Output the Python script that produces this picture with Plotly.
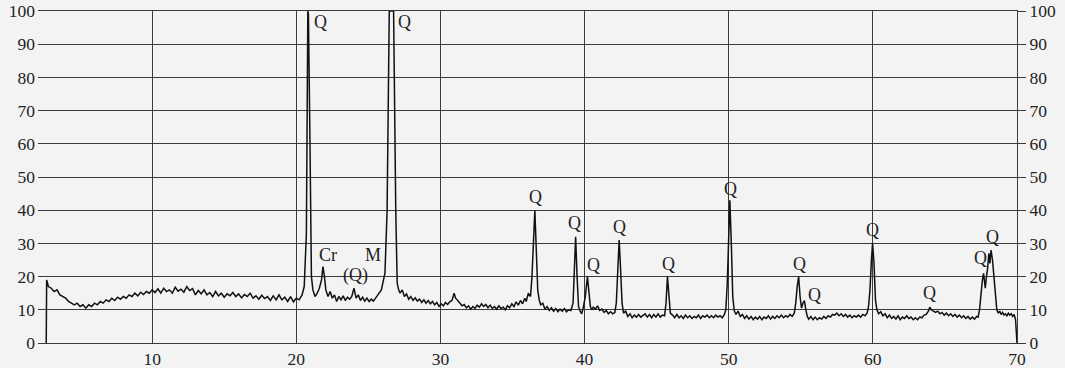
import plotly.graph_objects as go

# ---- data (2θ in degrees, intensity) ----
two_theta = [
    2.65, 2.68, 2.8, 3.0, 3.2, 3.4, 3.6, 3.8, 4.0, 4.2, 4.4, 4.6, 4.8, 5.0, 5.2, 5.4, 5.6, 5.8,
    6.0, 6.2, 6.4, 6.6, 6.8, 7.0, 7.2, 7.4, 7.6, 7.8, 8.0, 8.2, 8.4, 8.6, 8.8, 9.0, 9.2, 9.4,
    9.6, 9.8, 10.0, 10.2, 10.4, 10.6, 10.8, 11.0, 11.2, 11.4, 11.6, 11.8, 12.0, 12.2, 12.4,
    12.6, 12.8, 13.0, 13.2, 13.4, 13.6, 13.8, 14.0, 14.2, 14.4, 14.6, 14.8, 15.0, 15.2, 15.4,
    15.6, 15.8, 16.0, 16.2, 16.4, 16.6, 16.8, 17.0, 17.2, 17.4, 17.6, 17.8, 18.0, 18.2, 18.4,
    18.6, 18.8, 19.0, 19.2, 19.4, 19.6, 19.8, 20.0, 20.2, 20.4, 20.55, 20.7, 20.8, 20.84,
    20.95, 21.05, 21.15, 21.3, 21.45, 21.6, 21.75, 21.85, 21.95, 22.05, 22.2, 22.35, 22.5,
    22.65, 22.8, 22.95, 23.1, 23.25, 23.4, 23.55, 23.7, 23.85, 24.0, 24.15, 24.3, 24.45,
    24.6, 24.75, 24.9, 25.05, 25.2, 25.35, 25.5, 25.65, 25.8, 25.9, 26.0, 26.15, 26.3,
    26.45, 26.6, 26.75, 26.9, 27.0, 27.1, 27.2, 27.35, 27.5, 27.65, 27.8, 27.95, 28.1,
    28.25, 28.4, 28.55, 28.7, 28.85, 29.0, 29.15, 29.3, 29.45, 29.6, 29.75, 29.9, 30.05,
    30.2, 30.35, 30.5, 30.65, 30.8, 30.95, 31.05, 31.2, 31.35, 31.5, 31.65, 31.8, 31.95,
    32.1, 32.25, 32.4, 32.55, 32.7, 32.85, 33.0, 33.15, 33.3, 33.45, 33.6, 33.75, 33.9,
    34.05, 34.2, 34.35, 34.5, 34.65, 34.8, 34.95, 35.1, 35.25, 35.4, 35.55, 35.7, 35.85,
    35.95, 36.1, 36.25, 36.35, 36.45, 36.55, 36.65, 36.75, 36.85, 36.95, 37.1, 37.25, 37.4,
    37.55, 37.7, 37.85, 38.0, 38.15, 38.3, 38.45, 38.6, 38.75, 38.9, 39.05, 39.2, 39.3,
    39.38, 39.48, 39.58, 39.7, 39.8, 39.9, 40.05, 40.2, 40.3, 40.4, 40.5, 40.6, 40.75,
    40.9, 41.05, 41.2, 41.35, 41.5, 41.65, 41.8, 41.95, 42.1, 42.2, 42.3, 42.4, 42.5, 42.6,
    42.7, 42.85, 43.0, 43.15, 43.3, 43.45, 43.6, 43.75, 43.9, 44.05, 44.2, 44.35, 44.5,
    44.65, 44.8, 44.95, 45.1, 45.25, 45.4, 45.55, 45.65, 45.75, 45.85, 45.95, 46.1, 46.25,
    46.4, 46.55, 46.7, 46.85, 47.0, 47.15, 47.3, 47.45, 47.6, 47.75, 47.9, 48.05, 48.2,
    48.35, 48.5, 48.65, 48.8, 48.95, 49.1, 49.25, 49.4, 49.55, 49.7, 49.8, 49.9, 50.0,
    50.08, 50.18, 50.28, 50.38, 50.5, 50.65, 50.8, 50.95, 51.1, 51.25, 51.4, 51.55, 51.7,
    51.85, 52.0, 52.15, 52.3, 52.45, 52.6, 52.75, 52.9, 53.05, 53.2, 53.35, 53.5, 53.65,
    53.8, 53.95, 54.1, 54.25, 54.4, 54.55, 54.65, 54.75, 54.85, 54.95, 55.05, 55.15, 55.25,
    55.35, 55.45, 55.55, 55.7, 55.85, 56.0, 56.15, 56.3, 56.45, 56.6, 56.75, 56.9, 57.05,
    57.2, 57.35, 57.5, 57.65, 57.8, 57.95, 58.1, 58.25, 58.4, 58.55, 58.7, 58.85, 59.0,
    59.15, 59.3, 59.45, 59.6, 59.7, 59.8, 59.9, 59.98, 60.08, 60.18, 60.28, 60.4, 60.55,
    60.7, 60.85, 61.0, 61.15, 61.3, 61.45, 61.6, 61.75, 61.9, 62.05, 62.2, 62.35, 62.5,
    62.65, 62.8, 62.95, 63.1, 63.25, 63.4, 63.55, 63.7, 63.85, 63.95, 64.05, 64.2, 64.35,
    64.5, 64.65, 64.8, 64.95, 65.1, 65.25, 65.4, 65.55, 65.7, 65.85, 66.0, 66.15, 66.3,
    66.45, 66.6, 66.75, 66.9, 67.05, 67.2, 67.3, 67.4, 67.5, 67.6, 67.68, 67.75, 67.8,
    67.88, 67.95, 68.05, 68.12, 68.2, 68.3, 68.4, 68.5, 68.6, 68.7, 68.8, 68.9, 69.0,
    69.1, 69.2, 69.3, 69.4, 69.5, 69.6, 69.7, 69.8, 69.9, 70.0,
]

intensity = [
    0, 19, 17, 16.5, 15.5, 16, 14.5, 14, 13.5, 12.5, 12, 11.5, 12, 11, 11.5, 10.5, 11.5, 11,
    12, 11.5, 12.5, 12, 13, 12.5, 13.5, 12.8, 13.8, 13.2, 14, 13.5, 14.5, 14, 15, 14.2, 15.3, 14.6,
    15.5, 15, 16, 15.2, 16.3, 15, 16.5, 15.5, 16, 15, 16.8, 15.6, 16.2, 15.3, 17,
    15.8, 16.4, 14.5, 15.8, 14.8, 16, 14.5, 15.2, 14, 15.5, 14.2, 15, 13.8, 14.8, 14.2,
    15.2, 14, 14.8, 13.6, 14.6, 14, 15, 13.5, 14.2, 13.2, 14.4, 13.4, 14, 12.8, 14.2,
    13, 14.5, 13, 13.8, 12.5, 14, 12.4, 13.5, 13, 14.5, 17, 33, 100, 99,
    60, 20, 16, 14, 15, 16.5, 19, 23, 20, 16, 14, 15.5, 13.5,
    14.5, 12.5, 14, 13, 14.2, 12.8, 13.8, 13.2, 14, 16.5, 13.5, 14.5, 12.8,
    13.8, 12.6, 13.5, 12.5, 13.2, 12.6, 13.5, 14.5, 15.5, 16, 18, 21, 40,
    100, 100, 100, 40, 18, 16, 15, 16, 14, 14.8, 13.2, 14, 12.8,
    13.6, 12.6, 13.2, 12.2, 13, 12, 12.8, 11.8, 12.5, 11.5, 12.2, 11, 11.8,
    11.2, 12.2, 11.6, 12.4, 12.8, 15, 13.5, 12.8, 12, 11.2, 11.6, 10.6, 11.2,
    10.2, 11, 10.4, 11.4, 10.8, 11.8, 11, 11.6, 10.6, 11.4, 10.4, 11, 10.2,
    11.2, 10.4, 10.8, 10, 11.2, 10.6, 11.8, 11, 12.4, 11.4, 12.8, 11.8, 13.5,
    12.5, 15, 14, 20, 32, 40, 28, 16, 13, 11.5, 12, 10.2, 11,
    9.8, 10.6, 9.6, 10.4, 9.4, 10.2, 9.6, 10.4, 9.4, 10, 9.8, 12, 25,
    32, 20, 11, 9.5, 8.8, 10.5, 14, 20, 15, 11, 10, 10.8, 10.2,
    11.2, 9.8, 10.2, 9.2, 9.8, 8.8, 9.4, 8.8, 9.2, 12, 22, 31, 22, 12,
    9, 9.6, 8, 8.8, 7.6, 8.4, 7.8, 8.6, 7.8, 8.2, 8.8, 7.8, 8.6,
    7.6, 8.6, 7.8, 8.8, 7.8, 8.4, 8.2, 12, 20, 14, 9, 8.4, 7.6,
    8.6, 7.6, 8.2, 7.4, 8.4, 7.6, 8.2, 7.4, 8, 7.6, 8.4, 7.4, 8.2,
    7.8, 8.4, 7.6, 8.2, 7.6, 8.4, 7.8, 8.2, 7.6, 8.6, 10, 18, 32,
    43, 30, 14, 9.8, 8.6, 9.6, 8, 8.6, 7.4, 8.2, 7.2, 8, 7,
    7.8, 7.2, 8, 7, 7.8, 7.4, 8.2, 7.2, 8, 7.4, 8.2, 7.6, 8.4,
    7.6, 8.2, 7.8, 8.6, 8, 9, 12, 17, 20, 14, 10.5, 12, 12.8,
    10, 8, 7.2, 8, 7, 7.8, 7, 7.6, 7.2, 8, 7.4, 8.2, 7.8,
    8.6, 8.4, 9, 8.2, 8.8, 8, 8.6, 7.8, 8.4, 7.6, 8.2, 7.8, 8.4,
    7.8, 8.6, 8.2, 9, 11, 16, 25, 30, 24, 13, 10, 8.8, 9.4,
    8.2, 8.8, 7.6, 8.4, 7.4, 8, 7.2, 8.2, 7, 7.8, 7.4, 8.2, 7.4,
    7.8, 7, 7.6, 7, 7.8, 7.6, 8.4, 8.6, 9.6, 10.8, 10, 9.6, 9.2,
    9.6, 8.8, 9.2, 8.4, 9, 8.2, 8.8, 8, 8.6, 7.8, 8.4, 7.6, 8.2,
    7.4, 8, 7.2, 7.8, 7.2, 8, 7.8, 10, 15, 19, 21, 18, 16.5,
    20, 22, 27, 24, 28, 25, 20, 14, 10, 9, 9.6, 8.6, 9.2,
    8.4, 8.8, 8.2, 9, 8.4, 8.8, 8, 8.6, 7, 0,
]

# peak labels: (text, 2θ, intensity at label centre)
label_text = ["Q", "Q", "Cr", "(Q)", "M", "Q", "Q", "Q", "Q", "Q", "Q", "Q", "Q", "Q", "Q", "Q", "Q"]
label_x = [21.65, 27.5, 22.2, 24.1, 25.3, 36.6, 39.3, 40.6, 42.45, 45.8, 50.1, 54.9, 55.95, 60.0, 63.95, 67.45, 68.3]
label_y = [96.8, 96.8, 26.5, 20.2, 26.5, 44.0, 36.2, 23.6, 35.0, 23.8, 46.4, 23.8, 14.6, 34, 15.2, 25.6, 31.8]

y_ticks = [0, 10, 20, 30, 40, 50, 60, 70, 80, 90, 100]
x_ticks = [10, 20, 30, 40, 50, 60, 70]

FONT = "Liberation Serif"
BG = "#f3f3f3"
GRID = "#3a3a3a"
TXT = "#222222"
TICK_SIZE = 17.5

fig = go.Figure()
fig.add_trace(go.Scatter(
    x=two_theta, y=intensity, mode="lines",
    line=dict(color="#111111", width=1.5),
    showlegend=False, hoverinfo="skip",
))
# invisible trace to activate the right-hand axis
fig.add_trace(go.Scatter(
    x=[two_theta[0]], y=[0], yaxis="y2", mode="markers",
    marker=dict(opacity=0), showlegend=False, hoverinfo="skip",
))

for t, x, y in zip(label_text, label_x, label_y):
    fig.add_annotation(
        x=x, y=y, text=t, showarrow=False,
        font=dict(family=FONT, size=18, color=TXT),
        bgcolor="rgba(0,0,0,0)",
    )

fig.update_layout(
    width=1065, height=368,
    margin=dict(l=38, r=48, t=11, b=25, autoexpand=False),
    paper_bgcolor=BG, plot_bgcolor=BG,
    font=dict(family=FONT, size=TICK_SIZE, color=TXT),
    xaxis=dict(
        range=[2.08, 70], tickvals=x_ticks, ticktext=[str(v) for v in x_ticks],
        showgrid=True, gridcolor=GRID, gridwidth=1,
        showline=True, linecolor=GRID, linewidth=1, mirror=True,
        zeroline=False, ticks="", automargin=False,
        tickfont=dict(family=FONT, size=TICK_SIZE, color=TXT),
    ),
    yaxis=dict(
        range=[0, 100], tickvals=y_ticks, showgrid=True, gridcolor=GRID, gridwidth=1,
        showline=False, zeroline=False, ticks="", automargin=False,
        ticklabelstandoff=2,
        tickfont=dict(family=FONT, size=TICK_SIZE, color=TXT),
    ),
    yaxis2=dict(
        range=[0, 100], tickvals=y_ticks, overlaying="y", side="right",
        showgrid=False, zeroline=False, showline=True, linecolor=GRID, linewidth=1,
        ticks="outside", ticklen=8, tickcolor=GRID, tickwidth=1, automargin=False,
        tickfont=dict(family=FONT, size=TICK_SIZE, color=TXT),
    ),
)

fig.write_html(
    "out.html",
    config={"displayModeBar": False, "staticPlot": True},
    post_script=(
        "document.documentElement.style.margin='0';"
        "document.body.style.margin='0';document.body.style.padding='0';"
        "document.body.style.overflow='hidden';"
        f"document.body.style.background='{BG}';"
    ),
)
